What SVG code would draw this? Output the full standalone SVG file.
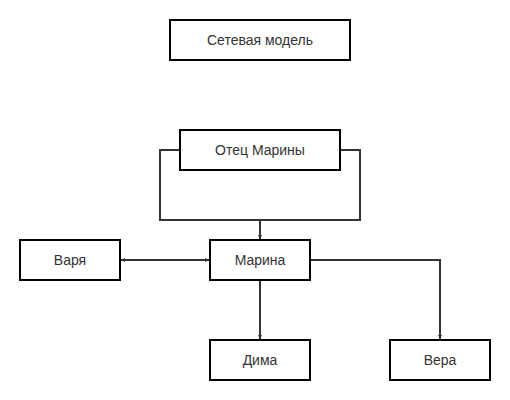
<svg xmlns="http://www.w3.org/2000/svg" width="510" height="400" viewBox="0 0 510 400">
<style>
.box{fill:#fff;stroke:#000;stroke-width:2}
.lbl{font-family:"Liberation Sans",Arial,sans-serif;font-size:14px;fill:#333;text-anchor:middle;dominant-baseline:central}
.con{fill:none;stroke:#333;stroke-width:2}
</style>
<defs>
<marker id="arr" viewBox="0 0 6 6" refX="6" refY="3" markerWidth="2.2" markerHeight="2.2" orient="auto-start-reverse" markerUnits="strokeWidth">
<path d="M0,0 L6,3 L0,6 z" fill="#333"/>
</marker>
</defs>
<rect width="510" height="400" fill="#fff"/>
<g id="connectors">
<path class="con" d="M180,150 H160 V220 H360 V150 H340"/>
<path class="con" d="M260,220 V239" marker-end="url(#arr)"/>
<path class="con" d="M121,260 H209" marker-start="url(#arr)" marker-end="url(#arr)"/>
<path class="con" d="M260,280 V339" marker-end="url(#arr)"/>
<path class="con" d="M310,260 H440 V339" marker-end="url(#arr)"/>
</g>
<g id="title"><rect class="box" x="170" y="20" width="180" height="40"/><text class="lbl" x="260" y="40">Сетевая модель</text></g>
<g id="otec"><rect class="box" x="180" y="130" width="160" height="40"/><text class="lbl" x="260" y="150">Отец Марины</text></g>
<g id="marina"><rect class="box" x="210" y="240" width="100" height="40"/><text class="lbl" x="260" y="260">Марина</text></g>
<g id="varya"><rect class="box" x="20" y="240" width="100" height="40"/><text class="lbl" x="70" y="260">Варя</text></g>
<g id="dima"><rect class="box" x="210" y="340" width="100" height="40"/><text class="lbl" x="260" y="360">Дима</text></g>
<g id="vera"><rect class="box" x="390" y="340" width="100" height="40"/><text class="lbl" x="440" y="360">Вера</text></g>
</svg>
